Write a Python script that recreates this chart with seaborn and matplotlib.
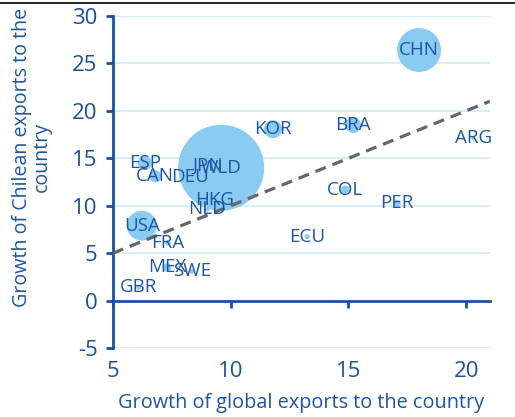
import matplotlib
matplotlib.use("Agg")
import matplotlib.pyplot as plt
from matplotlib.lines import Line2D
import seaborn as sns
import pandas as pd

countries = ["WLD", "CHN", "USA", "KOR", "BRA", "ESP", "CAN", "DEU", "JPN", "HKG",
             "NLD", "FRA", "MEX", "SWE", "GBR", "COL", "PER", "ECU", "ARG"]
global_growth = [9.6, 18.0, 6.23, 11.8, 15.2, 6.36, 6.8, 8.27, 9.04, 9.33,
                 9.0, 7.34, 7.3, 8.36, 6.1, 14.86, 17.07, 13.25, 20.3]
chile_growth = [14.0, 26.4, 7.9, 18.06, 18.5, 14.5, 13.1, 13.0, 14.25, 10.56,
                9.7, 6.1, 3.5, 3.1, 1.4, 11.7, 10.24, 6.75, 17.1]
weight = [100, 26, 12, 4.4, 3.4, 2.6, 2.0, 0.6, 1.0, 0.5,
          0.5, 0.4, 1.0, 0.3, 0.3, 0.9, 0.7, 0.35, 0.2]
x_ticks = [5, 10, 15, 20]
y_ticks = [-5, 0, 5, 10, 15, 20, 25, 30]

df = pd.DataFrame({"country": countries, "x": global_growth,
                   "y": chile_growth, "w": weight})

DARK = "#1a50a0"
TXT = "#1b55a3"
BUB = "#8acbf1"
GRID = "#cdebf8"

sns.set_theme(style="white")
plt.rcParams["font.family"] = ["Open Sans", "DejaVu Sans"]
plt.rcParams["axes.unicode_minus"] = False

fig = plt.figure(figsize=(5.15, 4.17), dpi=100)
ax = fig.add_axes([0.219, 0.165, 0.732, 0.797])

ax.set_xlim(5, 21)
ax.set_ylim(-5, 30)
ax.set_yticks(y_ticks)
ax.set_xticks(x_ticks)
for yv in y_ticks:
    ax.axhline(yv, color=GRID, lw=1.2, zorder=0)

sns.scatterplot(data=df, x="x", y="y", size="w", sizes=(0, 3836),
                size_norm=(0, 100), color=BUB, edgecolor="none", alpha=1,
                legend=False, ax=ax, zorder=2)

ax.axline((5, 5), slope=1, color="#666666", lw=2.3, ls=(0, (3.5, 2.2)), zorder=3)

for c, xv, yv in zip(countries, global_growth, chile_growth):
    ax.text(xv, yv, c, ha="center", va="center", color=TXT, fontsize=13.5, zorder=4)

for s in ["top", "right"]:
    ax.spines[s].set_visible(False)
ax.spines["left"].set_color(DARK)
ax.spines["left"].set_linewidth(2)
ax.spines["bottom"].set_position(("data", 0))
ax.spines["bottom"].set_color(DARK)
ax.spines["bottom"].set_linewidth(2)

ax.tick_params(axis="y", direction="out", length=5, width=2, color=DARK,
               labelcolor=DARK, labelsize=16, pad=6, left=True)
ax.tick_params(axis="x", direction="out", length=5, width=2, color=DARK,
               labelbottom=False, bottom=True)

sec = ax.secondary_xaxis(0)
sec.set_xticks(x_ticks)
sec.tick_params(axis="x", length=0, labelcolor=DARK, labelsize=16, pad=9)
sec.spines["bottom"].set_visible(False)
sec.set_xlabel("Growth of global exports to the country", color=TXT,
               fontsize=14.3, labelpad=8)
ax.set_xlabel("")
ax.set_ylabel("Growth of Chilean exports to the\ncountry", color=TXT,
              fontsize=14.1, linespacing=1.0)
ax.yaxis.set_label_coords(-0.162, 0.575)

fig.add_artist(Line2D([0, 1], [1 - 3 / 417, 1 - 3 / 417], color="black",
                      lw=1.2, transform=fig.transFigure))

fig.savefig("out.png", dpi=100)
